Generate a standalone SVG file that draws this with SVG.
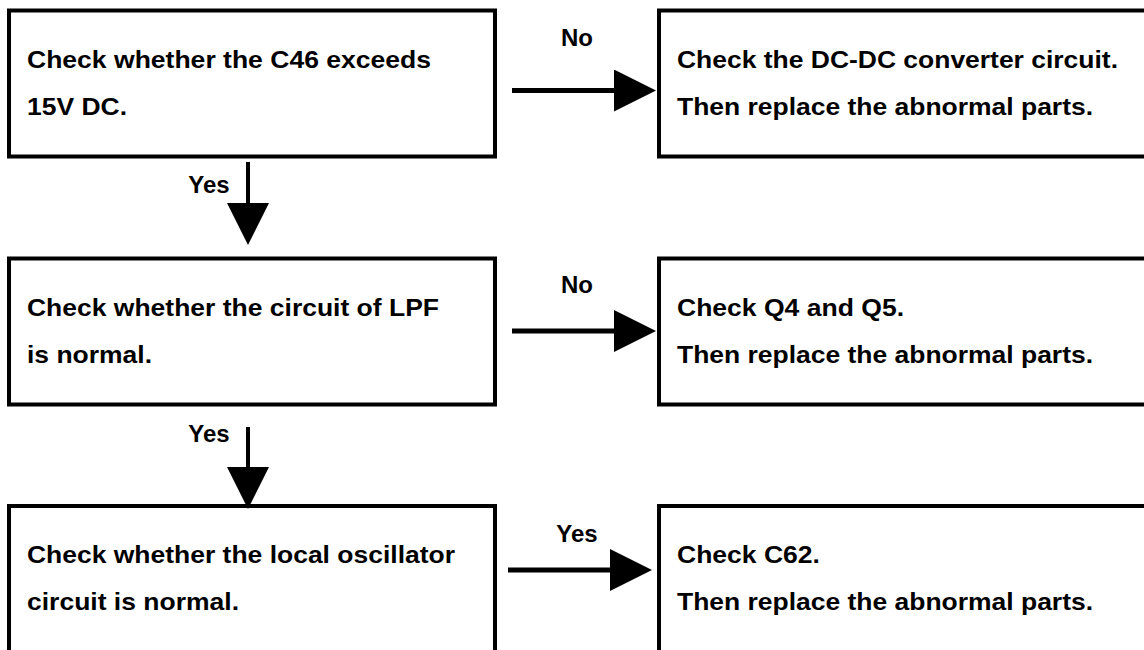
<svg xmlns="http://www.w3.org/2000/svg" width="1144" height="650" viewBox="0 0 1144 650">
<style>
.box{fill:#fff;stroke:#000;stroke-width:4}
.t{font-family:"Liberation Sans",Arial,sans-serif;font-weight:bold;font-size:24px;fill:#000}
.lbl{font-family:"Liberation Sans",Arial,sans-serif;font-weight:bold;font-size:24px;fill:#000;text-anchor:middle}
.h{stroke:#000;stroke-width:5;fill:none}
.v{stroke:#000;stroke-width:4;fill:none}
</style>
<defs>
<marker id="ah" markerUnits="userSpaceOnUse" markerWidth="42" markerHeight="42" refX="0" refY="21" orient="auto" viewBox="0 0 42 42">
<path d="M0,0 L42,21 L0,42 Z" fill="#000"/>
</marker>
</defs>
<rect width="1144" height="650" fill="#fff"/>
<g id="n1">
<rect class="box" x="9" y="10.5" width="486" height="146"/>
<text class="t" x="27" y="68" textLength="404" lengthAdjust="spacingAndGlyphs">Check whether the C46 exceeds</text>
<text class="t" x="27" y="115" textLength="100" lengthAdjust="spacingAndGlyphs">15V DC.</text>
</g>
<g id="n2">
<rect class="box" x="659" y="10.5" width="600" height="146"/>
<text class="t" x="677" y="68" textLength="441" lengthAdjust="spacingAndGlyphs">Check the DC-DC converter circuit.</text>
<text class="t" x="677" y="115" textLength="416" lengthAdjust="spacingAndGlyphs">Then replace the abnormal parts.</text>
</g>
<g id="n3">
<rect class="box" x="9" y="258.5" width="486" height="146"/>
<text class="t" x="27" y="316" textLength="412" lengthAdjust="spacingAndGlyphs">Check whether the circuit of LPF</text>
<text class="t" x="27" y="363" textLength="125" lengthAdjust="spacingAndGlyphs">is normal.</text>
</g>
<g id="n4">
<rect class="box" x="659" y="258.5" width="600" height="146"/>
<text class="t" x="677" y="316" textLength="227" lengthAdjust="spacingAndGlyphs">Check Q4 and Q5.</text>
<text class="t" x="677" y="363" textLength="416" lengthAdjust="spacingAndGlyphs">Then replace the abnormal parts.</text>
</g>
<g id="n5">
<rect class="box" x="9" y="506" width="486" height="300"/>
<text class="t" x="27" y="563" textLength="428" lengthAdjust="spacingAndGlyphs">Check whether the local oscillator</text>
<text class="t" x="27" y="610" textLength="212" lengthAdjust="spacingAndGlyphs">circuit is normal.</text>
</g>
<g id="n6">
<rect class="box" x="659" y="506" width="600" height="300"/>
<text class="t" x="677" y="563" textLength="143" lengthAdjust="spacingAndGlyphs">Check C62.</text>
<text class="t" x="677" y="610" textLength="416" lengthAdjust="spacingAndGlyphs">Then replace the abnormal parts.</text>
</g>
<g id="connectors">
<line class="h" x1="512" y1="90.5" x2="614" y2="90.5" marker-end="url(#ah)"/>
<line class="h" x1="512" y1="331" x2="614" y2="331" marker-end="url(#ah)"/>
<line class="h" x1="508" y1="570" x2="610" y2="570" marker-end="url(#ah)"/>
<line class="v" x1="248" y1="162" x2="248" y2="203" marker-end="url(#ah)"/>
<line class="v" x1="248" y1="427" x2="248" y2="467" marker-end="url(#ah)"/>
<text class="lbl" x="577" y="46">No</text>
<text class="lbl" x="577" y="293">No</text>
<text class="lbl" x="577" y="542">Yes</text>
<text class="lbl" x="209" y="193">Yes</text>
<text class="lbl" x="209" y="442">Yes</text>
</g>
</svg>
